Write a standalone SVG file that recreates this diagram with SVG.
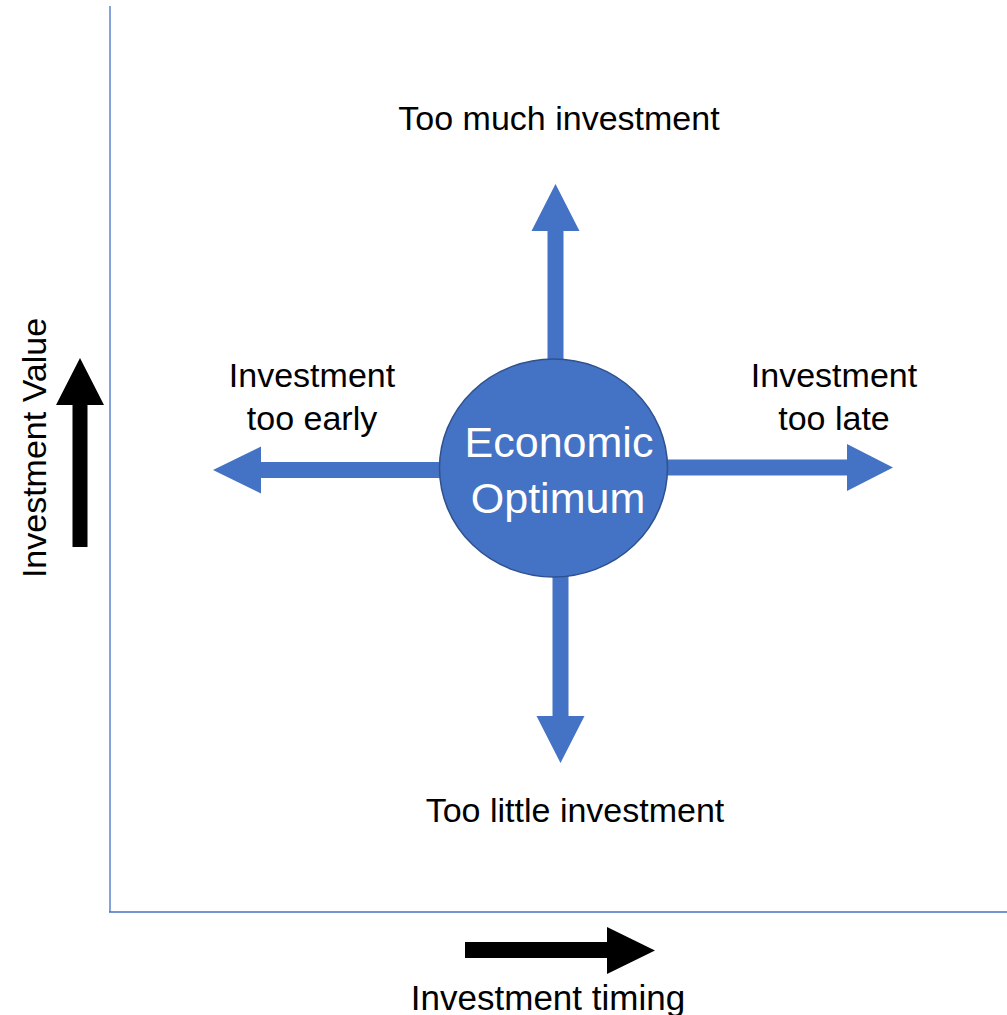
<svg xmlns="http://www.w3.org/2000/svg" width="1007" height="1015" viewBox="0 0 1007 1015">
<style>
.lbl{font-family:"Liberation Sans",Arial,sans-serif;font-size:34px;fill:#000;text-anchor:middle}
.blue{fill:#4472C4}
.blk{fill:#000}
.axis{stroke:#4472C4;stroke-width:1.3;fill:none}
.node{font-family:"Liberation Sans",Arial,sans-serif;font-size:43px;fill:#fff;text-anchor:middle}
</style>
<rect width="1007" height="1015" fill="#fff"/>
<g id="axes">
<line class="axis" x1="110" y1="6" x2="110" y2="912"/>
<line class="axis" x1="109" y1="912" x2="1007" y2="912"/>
</g>
<g id="axis-value">
<polygon class="blk" points="72.5,547 72.5,405 56,405 80,358 104,405 87.5,405 87.5,547"/>
<text class="lbl" transform="translate(46,448) rotate(-90)">Investment Value</text>
</g>
<g id="axis-timing">
<polygon class="blk" points="465,942 607,942 607,927 655,950.5 607,974 607,958 465,958"/>
<text class="lbl" x="548" y="1010" style="font-size:35px">Investment timing</text>
</g>
<g id="connectors">
<polygon class="blue" points="547.5,364 547.5,231 531.5,231 555.5,184 579.5,231 563.5,231 563.5,364"/>
<polygon class="blue" points="552.5,572 552.5,716 536.5,716 560.5,763 584.5,716 568.5,716 568.5,572"/>
<polygon class="blue" points="444,462 261,462 261,446.5 213,470 261,493.5 261,478 444,478"/>
<polygon class="blue" points="663,459.5 847,459.5 847,444 893,467.5 847,491 847,475.5 663,475.5"/>
</g>
<g id="optimum">
<ellipse cx="553.5" cy="468" rx="114" ry="109" fill="#4472C4" stroke="#2F528F" stroke-width="1.5"/>
<text class="node" x="559" y="457">Economic</text>
<text class="node" x="558" y="513">Optimum</text>
</g>
<g id="too-much">
<text class="lbl" x="559" y="130">Too much investment</text>
</g>
<g id="too-little">
<text class="lbl" x="575" y="822">Too little investment</text>
</g>
<g id="too-early">
<text class="lbl" x="312" y="387">Investment</text>
<text class="lbl" x="312" y="430">too early</text>
</g>
<g id="too-late">
<text class="lbl" x="834" y="387">Investment</text>
<text class="lbl" x="834" y="430">too late</text>
</g>
</svg>
